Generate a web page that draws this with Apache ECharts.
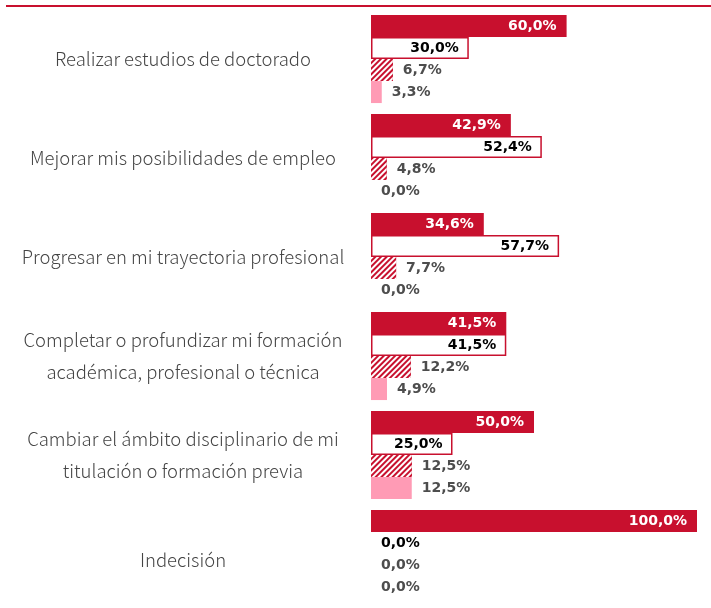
<!DOCTYPE html>
<html>
<head>
<meta charset="utf-8">
<script src="https://cdn.jsdelivr.net/npm/echarts@6/dist/echarts.min.js"></script>
<style>
  html, body { margin: 0; padding: 0; background: #fff; }
  #chart { width: 711px; height: 608px; }
</style>
</head>
<body>
<div id="chart"></div>
<script>
// datos
const categories = [
  'Realizar estudios de doctorado',
  'Mejorar mis posibilidades de empleo',
  'Progresar en mi trayectoria profesional',
  'Completar o profundizar mi formación\nacadémica, profesional o técnica',
  'Cambiar el ámbito disciplinario de mi\ntitulación o formación previa',
  'Indecisión'
];
const serie1 = [60.0, 42.9, 34.6, 41.5, 50.0, 100.0];
const serie2 = [30.0, 52.4, 57.7, 41.5, 25.0, 0.0];
const serie3 = [6.7, 4.8, 7.7, 12.2, 12.5, 0.0];
const serie4 = [3.3, 0.0, 0.0, 4.9, 12.5, 0.0];

const RED = '#c8102e';
const PINK = '#ff9bb5';
const GRAY = '#4d4d4d';

const fmt = v => v.toFixed(1).replace('.', ',') + '%';

const labelBase = {
  show: true,
  fontFamily: 'DejaVu Sans',
  fontWeight: 'bold',
  fontSize: 14,
  distance: 10,
  formatter: p => fmt(p.value)
};

// valores 0 -> etiqueta fuera de la barra, sin borde
function withZeroLabels(values, color) {
  return values.map(v => v === 0
    ? { value: v, itemStyle: { borderWidth: 0 }, label: { position: 'right', color: color } }
    : v);
}

const catFont = {
  color: '#444',
  fontFamily: 'Noto Sans CJK JP',
  fontWeight: 300,
  fontSize: 18.5,
  lineHeight: 32
};

const chart = echarts.init(document.getElementById('chart'));
chart.setOption({
  animation: false,
  grid: { left: 371, right: 14, top: 9.5, bottom: 4.5, containLabel: false },
  xAxis: {
    type: 'value',
    min: 0,
    max: 100,
    show: false
  },
  yAxis: {
    type: 'category',
    data: categories,
    inverse: true,
    axisLine: { show: false },
    axisTick: { show: false },
    axisLabel: Object.assign({
      align: 'center',
      margin: 188,
      // la última categoría (una línea) baja un poco en el original
      formatter: (v, i) => i === categories.length - 1 ? '{low|' + v + '}' : v,
      rich: { low: Object.assign({ padding: [12, 0, 0, 0] }, catFont) }
    }, catFont)
  },
  graphic: [{
    type: 'line',
    shape: { x1: 6, y1: 6, x2: 711, y2: 6 },
    style: { stroke: RED, lineWidth: 2 }
  }],
  series: [
    {
      name: 'Serie 1',
      type: 'bar',
      data: serie1,
      barGap: '0%',
      barCategoryGap: '11%',
      itemStyle: { color: RED },
      label: Object.assign({}, labelBase, { position: 'insideRight', color: '#fff' })
    },
    {
      name: 'Serie 2',
      type: 'bar',
      data: withZeroLabels(serie2, '#000'),
      barGap: '0%',
      barCategoryGap: '11%',
      itemStyle: { color: '#fff', borderColor: RED, borderWidth: 1.5 },
      label: Object.assign({}, labelBase, { position: 'insideRight', color: '#000' })
    },
    {
      name: 'Serie 3',
      type: 'bar',
      data: serie3,
      barGap: '0%',
      barCategoryGap: '11%',
      itemStyle: {
        color: RED,
        decal: {
          symbol: 'rect',
          symbolSize: 1,
          dashArrayX: [1, 0],
          dashArrayY: [2, 2],
          rotation: -Math.PI / 4,
          color: '#fff',
          backgroundColor: RED
        }
      },
      label: Object.assign({}, labelBase, { position: 'right', color: GRAY })
    },
    {
      name: 'Serie 4',
      type: 'bar',
      data: serie4,
      barGap: '0%',
      barCategoryGap: '11%',
      itemStyle: { color: PINK },
      label: Object.assign({}, labelBase, { position: 'right', color: GRAY })
    }
  ]
});
</script>
</body>
</html>
